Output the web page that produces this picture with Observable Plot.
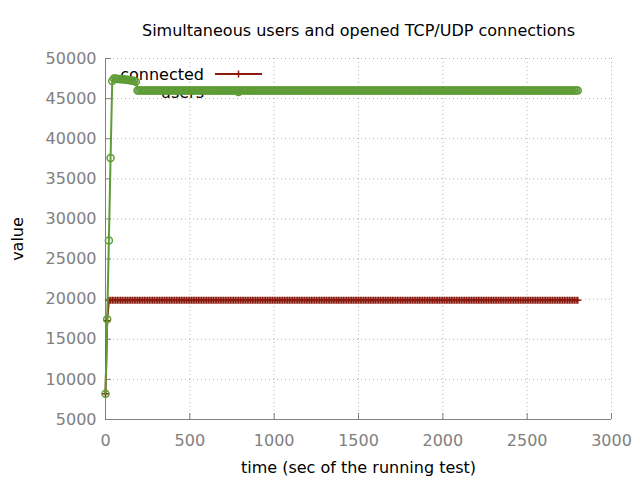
<!DOCTYPE html>
<html><head><meta charset="utf-8">
<script src="https://cdn.jsdelivr.net/npm/d3@7"></script>
<script src="https://cdn.jsdelivr.net/npm/@observablehq/plot@0.6"></script>
<style>
body{margin:0;background:#fff}
#chart svg{display:block}
</style>
</head><body><div id="chart"></div>
<script>
const title = "Simultaneous users and opened TCP/UDP connections";
const xLabel = "time (sec of the running test)";
const yLabel = "value";
const seriesNames = ["connected", "users"];
const seriesColors = ["#8b1a0e", "#5e9c36"];
const xTicks = [0, 500, 1000, 1500, 2000, 2500, 3000];
const yTicks = [5000, 10000, 15000, 20000, 25000, 30000, 35000, 40000, 45000, 50000];

// sample times (seconds), one sample every 10 s from 0 to 2800
const time = d3.range(0, 2801, 10);

const connected = [
  8200, 17300,
  19850,19850,19850,19850,19850,19850,19850,19850,19850,19850,19850,19850,19850,19850,19850,19850,19850,19850,19850,
  19850,19850,19850,19850,19850,19850,19850,19850,19850,19850,19850,19850,19850,19850,19850,19850,19850,19850,19850,19850,
  19850,19850,19850,19850,19850,19850,19850,19850,19850,19850,19850,19850,19850,19850,19850,19850,19850,19850,19850,19850,
  19850,19850,19850,19850,19850,19850,19850,19850,19850,19850,19850,19850,19850,19850,19850,19850,19850,19850,19850,19850,
  19850,19850,19850,19850,19850,19850,19850,19850,19850,19850,19850,19850,19850,19850,19850,19850,19850,19850,19850,19850,
  19850,19850,19850,19850,19850,19850,19850,19850,19850,19850,19850,19850,19850,19850,19850,19850,19850,19850,19850,19850,
  19850,19850,19850,19850,19850,19850,19850,19850,19850,19850,19850,19850,19850,19850,19850,19850,19850,19850,19850,19850,
  19850,19850,19850,19850,19850,19850,19850,19850,19850,19850,19850,19850,19850,19850,19850,19850,19850,19850,19850,19850,
  19850,19850,19850,19850,19850,19850,19850,19850,19850,19850,19850,19850,19850,19850,19850,19850,19850,19850,19850,19850,
  19850,19850,19850,19850,19850,19850,19850,19850,19850,19850,19850,19850,19850,19850,19850,19850,19850,19850,19850,19850,
  19850,19850,19850,19850,19850,19850,19850,19850,19850,19850,19850,19850,19850,19850,19850,19850,19850,19850,19850,19850,
  19850,19850,19850,19850,19850,19850,19850,19850,19850,19850,19850,19850,19850,19850,19850,19850,19850,19850,19850,19850,
  19850,19850,19850,19850,19850,19850,19850,19850,19850,19850,19850,19850,19850,19850,19850,19850,19850,19850,19850,19850,
  19850,19850,19850,19850,19850,19850,19850,19850,19850,19850,19850,19850,19850,19850,19850,19850,19850,19850,19850,19850
];

const users = [
  8200, 17500, 27300, 37600, 47200,
  47500,47500,47450,47450,47400,47400,47400,47350,47350,47300,47300,47250,47200,47100,
  46000,46000,46000,46000,46000,46000,46000,46000,46000,46000,46000,46000,46000,46000,46000,46000,46000,46000,46000,46000,
  46000,46000,46000,46000,46000,46000,46000,46000,46000,46000,46000,46000,46000,46000,46000,46000,46000,46000,46000,46000,
  46000,46000,46000,46000,46000,46000,46000,46000,46000,46000,46000,46000,46000,46000,46000,46000,46000,46000,46000,46000,
  46000,46000,46000,46000,46000,46000,46000,46000,46000,46000,46000,46000,46000,46000,46000,46000,46000,46000,46000,46000,
  46000,46000,46000,46000,46000,46000,46000,46000,46000,46000,46000,46000,46000,46000,46000,46000,46000,46000,46000,46000,
  46000,46000,46000,46000,46000,46000,46000,46000,46000,46000,46000,46000,46000,46000,46000,46000,46000,46000,46000,46000,
  46000,46000,46000,46000,46000,46000,46000,46000,46000,46000,46000,46000,46000,46000,46000,46000,46000,46000,46000,46000,
  46000,46000,46000,46000,46000,46000,46000,46000,46000,46000,46000,46000,46000,46000,46000,46000,46000,46000,46000,46000,
  46000,46000,46000,46000,46000,46000,46000,46000,46000,46000,46000,46000,46000,46000,46000,46000,46000,46000,46000,46000,
  46000,46000,46000,46000,46000,46000,46000,46000,46000,46000,46000,46000,46000,46000,46000,46000,46000,46000,46000,46000,
  46000,46000,46000,46000,46000,46000,46000,46000,46000,46000,46000,46000,46000,46000,46000,46000,46000,46000,46000,46000,
  46000,46000,46000,46000,46000,46000,46000,46000,46000,46000,46000,46000,46000,46000,46000,46000,46000,46000,46000,46000,
  46000,46000,46000,46000,46000,46000,46000,46000,46000,46000,46000,46000,46000,46000,46000,46000,46000,46000,46000,46000,
  46000,46000
];

const connData = time.map((t, i) => ({t, v: connected[i]}));
const userData = time.map((t, i) => ({t, v: users[i]}));

const gray = "#808080";
const gridGray = "#b4b4b4";
const font = "DejaVu Sans";

// gnuplot-style "+" point (two crossing strokes)
const plusSymbol = {
  draw(context, size) {
    const r = Math.sqrt(size / Math.PI);
    context.moveTo(-r, 0); context.lineTo(r, 0);
    context.moveTo(0, -r); context.lineTo(0, r);
  }
};

// legend drawn as a custom render mark (under the data, like gnuplot)
function legendMark(index, scales, values, dims) {
  const g = d3.create("svg:g").attr("font-family", font).attr("font-size", 16);
  const x0 = dims.marginLeft;
  const y0 = dims.marginTop;
  const rows = [{name: seriesNames[0], color: seriesColors[0], sym: "plus", dy: 16},
                {name: seriesNames[1], color: seriesColors[1], sym: "circle", dy: 34}];
  for (const r of rows) {
    const y = y0 + r.dy;
    g.append("text").attr("x", x0 + 99).attr("y", y).attr("dy", "0.35em")
      .attr("text-anchor", "end").attr("fill", "black").text(r.name);
    g.append("line").attr("x1", x0 + 110).attr("x2", x0 + 157).attr("y1", y).attr("y2", y)
      .attr("stroke", r.color).attr("stroke-width", 2);
    if (r.sym === "plus") {
      g.append("path").attr("d", `M${x0+133.5},${y-3.5}v7M${x0+130},${y}h7`)
        .attr("stroke", r.color).attr("stroke-width", 1.5).attr("fill", "none");
    } else {
      g.append("circle").attr("cx", x0 + 133.5).attr("cy", y).attr("r", 3.5)
        .attr("stroke", r.color).attr("stroke-width", 1.5).attr("fill", "none");
    }
  }
  return g.node();
}

const chart = Plot.plot({
  width: 640,
  height: 480,
  marginLeft: 105,
  marginRight: 29,
  marginTop: 58,
  marginBottom: 61,
  style: {fontFamily: font, fontSize: "16px", background: "white", color: "black"},
  x: {domain: [0, 3000], axis: null},
  y: {domain: [5000, 50000], axis: null},
  marks: [
    // dotted grid
    Plot.ruleX(xTicks.slice(1), {x: d => d, stroke: gridGray, strokeWidth: 1, strokeDasharray: "1,3"}),
    Plot.ruleY(yTicks.slice(1), {y: d => d, stroke: gridGray, strokeWidth: 1, strokeDasharray: "1,3"}),
    // inward ticks
    Plot.ruleX(xTicks, {x: d => d, insetTop: 355, stroke: gray}),
    Plot.ruleY(yTicks, {y: d => d, insetRight: 500, stroke: gray}),
    // border (left + bottom)
    Plot.ruleX([0], {x: d => d, stroke: gray}),
    Plot.ruleY([5000], {y: d => d, stroke: gray}),
    // tick labels
    Plot.text(xTicks, {x: d => d, text: d => String(d), frameAnchor: "bottom", lineAnchor: "middle", dy: 21, fill: gray, fontSize: 16}),
    Plot.text(yTicks, {y: d => d, text: d => String(d), frameAnchor: "left", lineAnchor: "middle", dx: -9, textAnchor: "end", fill: gray, fontSize: 16}),
    // titles
    Plot.text([title], {text: d => d, frameAnchor: "top", lineAnchor: "middle", dy: -28, fill: "black", fontSize: 16}),
    Plot.text([xLabel], {text: d => d, frameAnchor: "bottom", lineAnchor: "middle", dy: 48, fill: "black", fontSize: 16}),
    Plot.text([yLabel], {text: d => d, frameAnchor: "left", textAnchor: "middle", lineAnchor: "middle", dx: -88, rotate: -90, fill: "black", fontSize: 16}),
    // legend
    legendMark,
    // series
    Plot.line(connData, {x: "t", y: "v", stroke: seriesColors[0], strokeWidth: 2}),
    Plot.dot(connData, {x: "t", y: "v", symbol: plusSymbol, r: 3.5, fill: "none", stroke: seriesColors[0], strokeWidth: 1.5}),
    Plot.line(userData, {x: "t", y: "v", stroke: seriesColors[1], strokeWidth: 2}),
    Plot.dot(userData, {x: "t", y: "v", symbol: "circle", r: 3.5, fill: "none", stroke: seriesColors[1], strokeWidth: 1.5})
  ]
});
document.getElementById("chart").appendChild(chart);
</script>
</body></html>
